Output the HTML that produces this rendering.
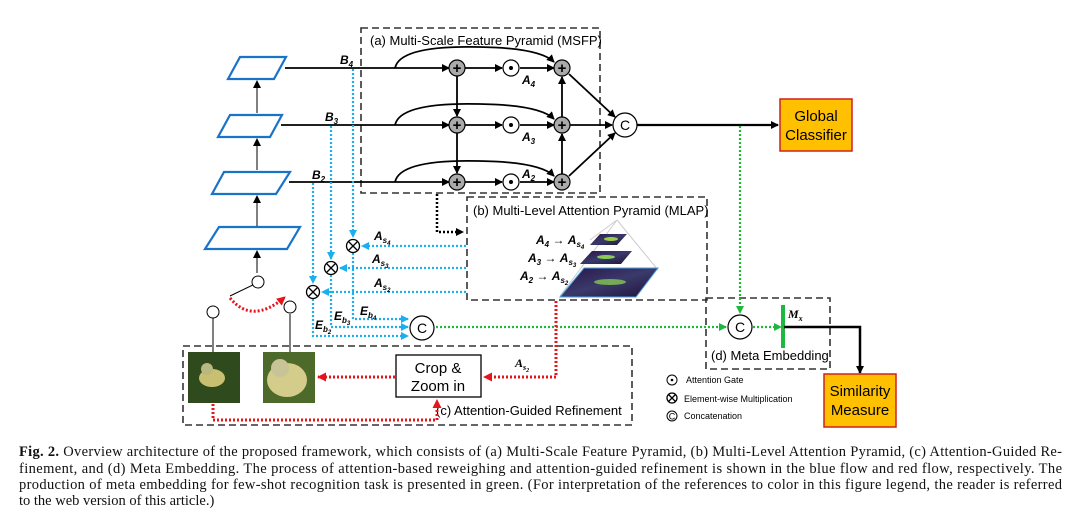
<!DOCTYPE html>
<html><head><meta charset="utf-8"><style>
html,body{margin:0;padding:0;background:#fff}
svg{display:block}
text{font-family:"Liberation Sans",sans-serif}
.cap{font-family:"Liberation Serif",serif;font-size:14.5px;fill:#111}
.it{font-family:"Liberation Serif",serif;font-style:italic;font-weight:bold;font-size:12px}
</style></head><body>
<svg width="1084" height="518" viewBox="0 0 1084 518">
<defs>
<marker id="ab" markerWidth="8" markerHeight="8" refX="7" refY="4" orient="auto" markerUnits="userSpaceOnUse"><path d="M0,0L8,4L0,8z" fill="#000"/></marker>
<marker id="abl" markerWidth="8" markerHeight="8" refX="7" refY="4" orient="auto" markerUnits="userSpaceOnUse"><path d="M0,0L8,4L0,8z" fill="#1ab0f0"/></marker>
<marker id="ar" markerWidth="9" markerHeight="9" refX="8" refY="4.5" orient="auto" markerUnits="userSpaceOnUse"><path d="M0,0L9,4.5L0,9z" fill="#e8141b"/></marker>
<marker id="ag" markerWidth="8" markerHeight="8" refX="7" refY="4" orient="auto" markerUnits="userSpaceOnUse"><path d="M0,0L8,4L0,8z" fill="#1fb83f"/></marker>
<linearGradient id="hm" x1="0" y1="0" x2="1" y2="1"><stop offset="0" stop-color="#2a1448"/><stop offset=".5" stop-color="#3a3a6a"/><stop offset="1" stop-color="#20103a"/></linearGradient>
</defs>

<g fill="none" stroke="#333" stroke-width="1.6" stroke-dasharray="7,4">
<rect x="361" y="28" width="239" height="165"/>
<rect x="467" y="197" width="240" height="103"/>
<rect x="706" y="298" width="124" height="71"/>
<rect x="183" y="346" width="449" height="79"/>
</g>
<text x="370" y="45" font-size="13">(a) Multi-Scale Feature Pyramid (MSFP)</text>
<text x="473" y="215" font-size="13">(b) Multi-Level Attention Pyramid (MLAP)</text>
<text x="711" y="360" font-size="13">(d) Meta Embedding</text>
<text x="436" y="415" font-size="13">(c) Attention-Guided Refinement</text>

<g fill="none" stroke="#1a73c8" stroke-width="2.2">
<polygon points="240,57 286,57 274,79 228,79"/>
<polygon points="230,115 282,115 270,137 218,137"/>
<polygon points="224,172 290,172 276,194 212,194"/>
<polygon points="219,227 300,227 287,249 205,249"/>
</g>
<g stroke="#000" stroke-width="1" marker-end="url(#ab)">
<line x1="257" y1="273" x2="257" y2="251"/><line x1="257" y1="226" x2="257" y2="196"/>
<line x1="257" y1="170" x2="257" y2="139"/><line x1="257" y1="113" x2="257" y2="81"/>
</g>
<g fill="#fff" stroke="#000" stroke-width="1">
<line x1="257" y1="283" x2="230" y2="296"/>
<circle cx="258" cy="282" r="6"/>
<line x1="213" y1="318" x2="213" y2="352"/><circle cx="213" cy="312" r="6"/>
<line x1="290" y1="314" x2="290" y2="352"/><circle cx="290" cy="307" r="6"/>
</g>
<path d="M230,298 Q252,325 285,297" fill="none" stroke="#e8141b" stroke-width="3" stroke-dasharray="2,2" marker-end="url(#ar)"/>

<g stroke="#000" stroke-width="1.8" fill="none">
<line x1="285" y1="68" x2="449" y2="68" marker-end="url(#ab)"/>
<line x1="281" y1="125" x2="449" y2="125" marker-end="url(#ab)"/>
<line x1="289" y1="182" x2="449" y2="182" marker-end="url(#ab)"/>
<path d="M395,68 Q400,45 480,47 Q540,48 554,62" marker-end="url(#ab)"/>
<path d="M395,125 Q400,102 480,104 Q540,105 554,119" marker-end="url(#ab)"/>
<path d="M395,182 Q400,159 480,161 Q540,162 554,176" marker-end="url(#ab)"/>
<line x1="465" y1="68" x2="502" y2="68" marker-end="url(#ab)"/>
<line x1="465" y1="125" x2="502" y2="125" marker-end="url(#ab)"/>
<line x1="465" y1="182" x2="502" y2="182" marker-end="url(#ab)"/>
<line x1="520" y1="68" x2="554" y2="68" marker-end="url(#ab)"/>
<line x1="520" y1="125" x2="554" y2="125" marker-end="url(#ab)"/>
<line x1="520" y1="182" x2="554" y2="182" marker-end="url(#ab)"/>
<line x1="457" y1="76" x2="457" y2="116" marker-end="url(#ab)"/>
<line x1="457" y1="133" x2="457" y2="173" marker-end="url(#ab)"/>
<line x1="562" y1="174" x2="562" y2="134" marker-end="url(#ab)"/>
<line x1="562" y1="117" x2="562" y2="77" marker-end="url(#ab)"/>
<line x1="569" y1="74" x2="615" y2="117" marker-end="url(#ab)"/>
<line x1="570" y1="125" x2="612" y2="125" marker-end="url(#ab)"/>
<line x1="569" y1="176" x2="615" y2="133" marker-end="url(#ab)"/>
<line x1="636" y1="125" x2="778" y2="125" stroke-width="2.2" marker-end="url(#ab)"/>
</g>
<g stroke="#000" stroke-width="1.2">
<g fill="#aaa">
<circle cx="457" cy="68" r="8"/><circle cx="457" cy="125" r="8"/><circle cx="457" cy="182" r="8"/>
<circle cx="562" cy="68" r="8"/><circle cx="562" cy="125" r="8"/><circle cx="562" cy="182" r="8"/>
</g>
<g fill="#fff"><circle cx="511" cy="68" r="8"/><circle cx="511" cy="125" r="8"/><circle cx="511" cy="182" r="8"/></g>
</g>
<g font-size="15" font-weight="bold" text-anchor="middle">
<text x="457" y="73">+</text><text x="457" y="130">+</text><text x="457" y="187">+</text>
<text x="562" y="73">+</text><text x="562" y="130">+</text><text x="562" y="187">+</text>
</g>
<g fill="#000"><circle cx="511" cy="68" r="2"/><circle cx="511" cy="125" r="2"/><circle cx="511" cy="182" r="2"/></g>
<g class="it">
<text x="340" y="64">B<tspan font-size="8" dy="3">4</tspan></text>
<text x="325" y="121">B<tspan font-size="8" dy="3">3</tspan></text>
<text x="312" y="179">B<tspan font-size="8" dy="3">2</tspan></text>
<text x="522" y="84">A<tspan font-size="8" dy="3">4</tspan></text>
<text x="522" y="141">A<tspan font-size="8" dy="3">3</tspan></text>
<text x="522" y="178">A<tspan font-size="8" dy="3">2</tspan></text>
</g>
<circle cx="625" cy="125" r="12" fill="#fff" stroke="#000" stroke-width="1.2"/>
<text x="625" y="130" font-size="14" text-anchor="middle">C</text>

<rect x="780" y="99" width="72" height="52" fill="#ffc000" stroke="#d02020" stroke-width="1.5"/>
<text x="816" y="121" font-size="15" text-anchor="middle">Global</text>
<text x="816" y="140" font-size="15" text-anchor="middle">Classifier</text>

<path d="M437,194 V232 H463" fill="none" stroke="#000" stroke-width="2.5" stroke-dasharray="2,2" marker-end="url(#ab)"/>

<g>
<path d="M617,220 L590,240 M617,220 L560,296 M617,220 L658,270" stroke="#ccc" fill="none"/>
<polygon points="600,234 627,234 617,245 590,245" fill="url(#hm)"/>
<polygon points="592,251 632,251 621,264 580,264" fill="url(#hm)"/>
<polygon points="584,268 658,268 636,297 560,297" fill="url(#hm)" stroke="#4aa0e0"/>
<ellipse cx="611" cy="239" rx="7" ry="2" fill="#9c4"/><ellipse cx="606" cy="257" rx="9" ry="2" fill="#8c5"/><ellipse cx="610" cy="282" rx="16" ry="3" fill="#7a5"/>
</g>
<g class="it">
<text x="536" y="244">A<tspan font-size="8" dy="3">4</tspan><tspan dy="-3" font-weight="normal"> → </tspan>A<tspan font-size="8" dy="3">s<tspan font-size="6" dy="2">4</tspan></tspan></text>
<text x="528" y="262">A<tspan font-size="8" dy="3">3</tspan><tspan dy="-3" font-weight="normal"> → </tspan>A<tspan font-size="8" dy="3">s<tspan font-size="6" dy="2">3</tspan></tspan></text>
<text x="520" y="280">A<tspan font-size="8" dy="3">2</tspan><tspan dy="-3" font-weight="normal"> → </tspan>A<tspan font-size="8" dy="3">s<tspan font-size="6" dy="2">2</tspan></tspan></text>
</g>

<g stroke="#1ab0f0" stroke-width="2.2" stroke-dasharray="2,2" fill="none">
<line x1="353" y1="69" x2="353" y2="237" marker-end="url(#abl)"/>
<line x1="331" y1="126" x2="331" y2="259" marker-end="url(#abl)"/>
<line x1="313" y1="183" x2="313" y2="283" marker-end="url(#abl)"/>
<line x1="466" y1="246" x2="362" y2="246" marker-end="url(#abl)"/>
<line x1="466" y1="268" x2="340" y2="268" marker-end="url(#abl)"/>
<line x1="466" y1="292" x2="322" y2="292" marker-end="url(#abl)"/>
<path d="M353,253 V319 H408" marker-end="url(#abl)"/>
<path d="M331,275 V327 H408" marker-end="url(#abl)"/>
<path d="M313,299 V336 H408" marker-end="url(#abl)"/>
</g>
<g fill="#fff" stroke="#000" stroke-width="1.3">
<circle cx="353" cy="246" r="6.5"/><circle cx="331" cy="268" r="6.5"/><circle cx="313" cy="292" r="6.5"/>
</g>
<g stroke="#000" stroke-width="1.3">
<path d="M348.5,241.5l9,9M357.5,241.5l-9,9M326.5,263.5l9,9M335.5,263.5l-9,9M308.5,287.5l9,9M317.5,287.5l-9,9"/>
</g>
<g class="it">
<text x="374" y="240">A<tspan font-size="8" dy="3">s<tspan font-size="6" dy="2">4</tspan></tspan></text>
<text x="372" y="263">A<tspan font-size="8" dy="3">s<tspan font-size="6" dy="2">3</tspan></tspan></text>
<text x="374" y="287">A<tspan font-size="8" dy="3">s<tspan font-size="6" dy="2">2</tspan></tspan></text>
<text x="360" y="315">E<tspan font-size="8" dy="3">b<tspan font-size="6" dy="2">4</tspan></tspan></text>
<text x="334" y="320">E<tspan font-size="8" dy="3">b<tspan font-size="6" dy="2">3</tspan></tspan></text>
<text x="315" y="329">E<tspan font-size="8" dy="3">b<tspan font-size="6" dy="2">2</tspan></tspan></text>
</g>
<circle cx="422" cy="328" r="12" fill="#fff" stroke="#000" stroke-width="1.2"/>
<text x="422" y="333" font-size="14" text-anchor="middle">C</text>

<g stroke="#1fb83f" stroke-width="2.2" stroke-dasharray="2,2" fill="none">
<line x1="436" y1="327" x2="726" y2="327" marker-end="url(#ag)"/>
<line x1="740" y1="126" x2="740" y2="313" marker-end="url(#ag)"/>
<line x1="753" y1="327" x2="781" y2="327" marker-end="url(#ag)"/>
</g>
<circle cx="740" cy="327" r="12" fill="#fff" stroke="#000" stroke-width="1.2"/>
<text x="740" y="332" font-size="14" text-anchor="middle">C</text>
<line x1="783" y1="305" x2="783" y2="348" stroke="#1fb83f" stroke-width="4"/>
<text x="788" y="318" class="it">M<tspan font-size="8" dy="3">x</tspan></text>
<path d="M784,327 H860 V373" fill="none" stroke="#000" stroke-width="2.5" marker-end="url(#ab)"/>
<rect x="824" y="374" width="72" height="53" fill="#ffc000" stroke="#d02020" stroke-width="1.5"/>
<text x="860" y="396" font-size="15" text-anchor="middle">Similarity</text>
<text x="860" y="415" font-size="15" text-anchor="middle">Measure</text>

<rect x="188" y="352" width="52" height="51" fill="#2f4a1c"/>
<ellipse cx="212" cy="378" rx="13" ry="9" fill="#c8c070"/><circle cx="207" cy="369" r="6" fill="#b8b880"/>
<rect x="263" y="352" width="52" height="51" fill="#4e6a2a"/>
<ellipse cx="287" cy="380" rx="20" ry="17" fill="#d4cc8a"/><circle cx="280" cy="368" r="9" fill="#c8c498"/>
<rect x="396" y="355" width="85" height="42" fill="#fff" stroke="#000" stroke-width="1.3"/>
<text x="438" y="373" font-size="15" text-anchor="middle">Crop &amp;</text>
<text x="438" y="391" font-size="15" text-anchor="middle">Zoom in</text>
<g stroke="#e8141b" stroke-width="3" stroke-dasharray="2,2" fill="none">
<path d="M556,301 V377 H484" marker-end="url(#ar)"/>
<line x1="395" y1="377" x2="318" y2="377" marker-end="url(#ar)"/>
<path d="M213,404 V420 H437 V400" marker-end="url(#ar)"/>
</g>
<text x="515" y="367" class="it">A<tspan font-size="8" dy="3">s<tspan font-size="6" dy="2">2</tspan></tspan></text>

<g font-size="9">
<circle cx="672" cy="380" r="5" fill="#fff" stroke="#000"/><circle cx="672" cy="380" r="1.3"/>
<text x="686" y="383">Attention Gate</text>
<circle cx="672" cy="398" r="5" fill="#fff" stroke="#000" stroke-width="1.3"/><path d="M668.5,394.5l7,7M675.5,394.5l-7,7" stroke="#000" stroke-width="1.3"/>
<text x="684" y="402">Element-wise Multiplication</text>
<circle cx="672" cy="416" r="5" fill="#fff" stroke="#000"/><text x="672" y="419.5" text-anchor="middle" font-size="9">C</text>
<text x="684" y="419">Concatenation</text>
</g>

<g>
<text class="cap" x="19" y="456" textLength="1043" lengthAdjust="spacing"><tspan font-weight="bold">Fig. 2.</tspan> Overview architecture of the proposed framework, which consists of (a) Multi-Scale Feature Pyramid, (b) Multi-Level Attention Pyramid, (c) Attention-Guided Re-</text>
<text class="cap" x="19" y="473" textLength="1043" lengthAdjust="spacing">finement, and (d) Meta Embedding. The process of attention-based reweighing and attention-guided refinement is shown in the blue flow and red flow, respectively. The</text>
<text class="cap" x="19" y="489" textLength="1043" lengthAdjust="spacing">production of meta embedding for few-shot recognition task is presented in green. (For interpretation of the references to color in this figure legend, the reader is referred</text>
<text class="cap" x="19" y="505">to the web version of this article.)</text>
</g>
</svg>
</body></html>
